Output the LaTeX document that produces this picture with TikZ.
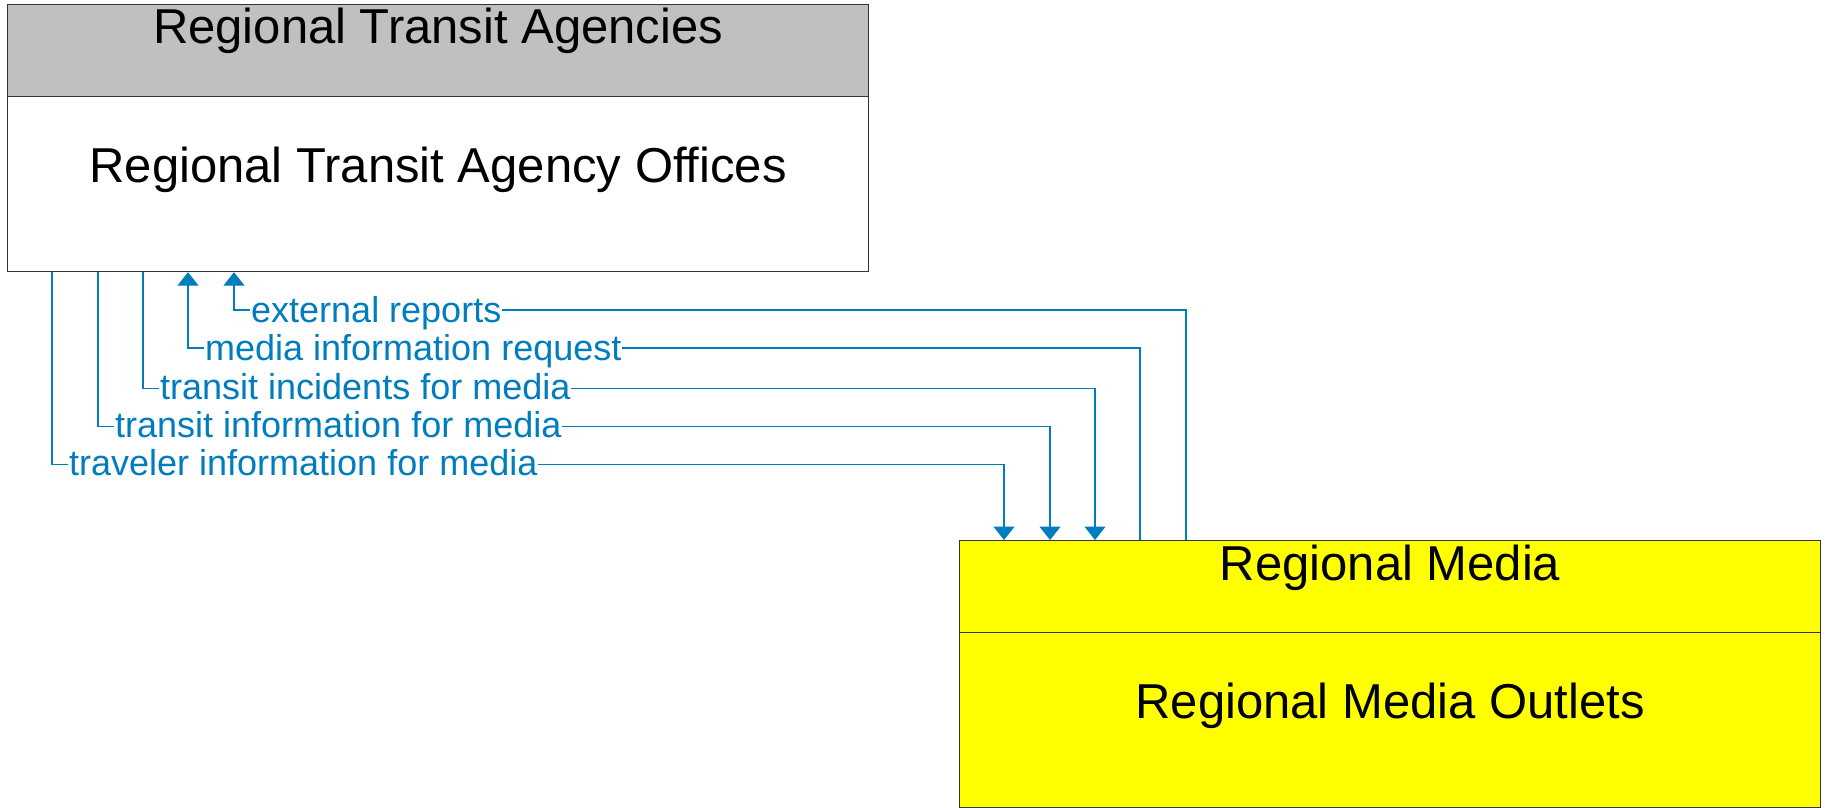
\documentclass[tikz,border=0pt]{standalone}
\usepackage{fontspec}
\setmainfont{Liberation Sans}
\usetikzlibrary{arrows.meta,calc}
\definecolor{flow}{RGB}{0,125,190}
\definecolor{hdrgray}{RGB}{192,192,192}
\definecolor{mediayellow}{RGB}{255,255,0}
\begin{document}
\begin{tikzpicture}[x=1pt,y=-1pt,
  box/.style={draw=black!80, line width=1.2pt, minimum width=861pt, inner sep=0pt, anchor=north west},
  big/.style={font=\fontsize{49}{58}\selectfont, anchor=base, inner sep=0pt},
  flowline/.style={draw=flow, line width=1.3pt},
  arr/.style={flowline, -{Triangle[width=21pt,length=13.5pt]}},
  lbl/.style={font=\fontsize{36}{43}\selectfont, text=flow, fill=white, inner xsep=1pt, inner ysep=0pt, anchor=base west}]
\useasboundingbox (0,0) rectangle (1825,808);
% top element
\node[box, fill=hdrgray, minimum height=92pt] (tahdr) at (7,4) {};
\node[box, fill=white, minimum height=175pt] (tabody) at (7,96) {};
\node[big] (tatitle) at ($(tahdr.north)+(0,40)$) {Regional Transit Agencies};
\node[big] (taname) at ($(tabody.north)+(0,86)$) {Regional Transit Agency Offices};
% bottom element
\node[box, fill=mediayellow, minimum height=92pt] (mohdr) at (959,540) {};
\node[box, fill=mediayellow, minimum height=175pt] (mobody) at (959,632) {};
\node[big] (motitle) at ($(mohdr.north)+(0,40)$) {Regional Media};
\node[big] (moname) at ($(mobody.north)+(0,86)$) {Regional Media Outlets};
% flows
\draw[arr] ($(tabody.south west)+(45,0)$) -- ++(0,192) -| ($(mohdr.north west)+(45,0)$);
\draw[arr] ($(tabody.south west)+(91,0)$) -- ++(0,154) -| ($(mohdr.north west)+(91,0)$);
\draw[arr] ($(tabody.south west)+(136,0)$) -- ++(0,116) -| ($(mohdr.north west)+(136,0)$);
\draw[arr] ($(mohdr.north west)+(181,0)$) -- ++(0,-192) -| ($(tabody.south west)+(181,0)$);
\draw[arr] ($(mohdr.north west)+(227,0)$) -- ++(0,-230) -| ($(tabody.south west)+(227,0)$);
% labels
\node[lbl] (l1) at (68,475) {traveler information for media};
\node[lbl] (l2) at (114,437) {transit information for media};
\node[lbl] (l3) at (159,399) {transit incidents for media};
\node[lbl] (l4) at (204,360) {media information request};
\node[lbl] (l5) at (250,322) {external reports};
\end{tikzpicture}
\end{document}
